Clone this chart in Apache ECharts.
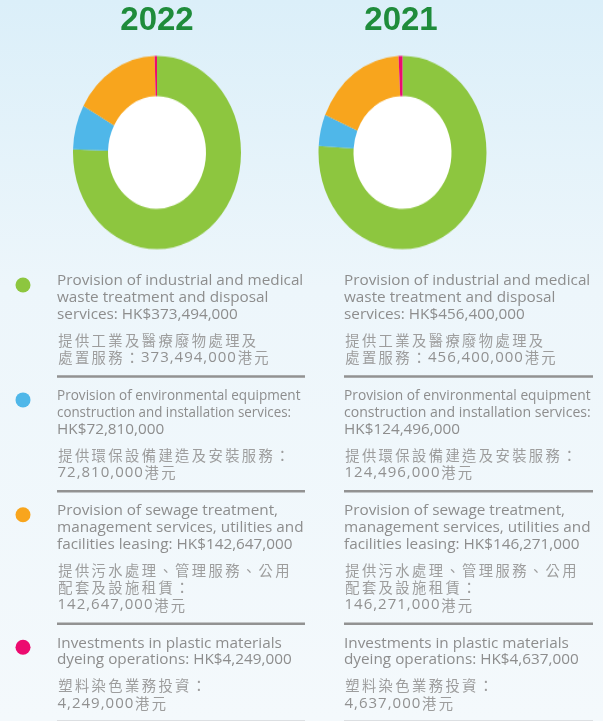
<!DOCTYPE html>
<html>
<head>
<meta charset="utf-8">
<script src="https://cdn.jsdelivr.net/npm/echarts@6/dist/echarts.min.js"></script>
<style>
  html, body { margin: 0; padding: 0; }
  body { width: 603px; height: 721px; position: relative; overflow: hidden; }
  #main { position: absolute; left: 0; top: 0; width: 603px; height: 721px; }
  /* donuts in the original are slightly taller than wide */
  #donuts { position: absolute; left: 0; top: 0; width: 603px; height: 260px;
            transform: scaleY(1.15); transform-origin: 0 152.5px; }
</style>
</head>
<body>
<div id="main"></div>
<div id="donuts"></div>
<script>
// 年份
const years = ['2022', '2021'];
const colors = ['#8dc63f', '#4fb7e9', '#f8a51d', '#ec0b6f'];

// 金额 (HK$)
const amounts2022 = [373494000, 72810000, 142647000, 4249000];
const amounts2021 = [456400000, 124496000, 146271000, 4637000];

// 扇区份额 (按图片读取, %)
const sliceShare2022 = [75.5, 7.5, 16.55, 0.45];
const sliceShare2021 = [76.1, 5.25, 17.9, 0.75];

// 文字
const labelsEn = [
  ['Provision of industrial and medical', 'waste treatment and disposal', 'services: HK${v}'],
  ['Provision of environmental equipment', 'construction and installation services:', 'HK${v}'],
  ['Provision of sewage treatment,', 'management services, utilities and', 'facilities leasing: HK${v}'],
  ['Investments in plastic materials', 'dyeing operations: HK${v}']
];
const labelsZh = [
  ['提供工業及醫療廢物處理及', '處置服務：{v}港元'],
  ['提供環保設備建造及安裝服務：', '{v}港元'],
  ['提供污水處理、管理服務、公用', '配套及設施租賃：', '{v}港元'],
  ['塑料染色業務投資：', '{v}港元']
];

function fmt(n) {
  return n.toLocaleString('en-US');
}

// 中文字间距: 每个字符单独一个 rich token
function spaced(str) {
  return str.split('').map(ch => {
    let isCjk = ch.charCodeAt(0) > 0x2e80;
    return '{' + (isCjk ? 'c' : 'd') + '|' + ch + '}';
  }).join('');
}

let mainChart = echarts.init(document.getElementById('main'));
let donutChart = echarts.init(document.getElementById('donuts'));

let graphics = [];
// 标题
[157, 401].forEach((cx, i) => {
  graphics.push({
    type: 'text',
    x: cx,
    y: 21,
    style: {
      text: years[i],
      fill: '#1f8c3b',
      font: 'bold 33px "Liberation Sans", Arial, sans-serif',
      textAlign: 'center', textVerticalAlign: 'middle',
      align: 'center', verticalAlign: 'middle'
    }
  });
});

// 图例文字
const cols = [
  { x: 57, amounts: amounts2022, right: 305, narrow: [0.887, 0.873] },
  { x: 344, amounts: amounts2021, right: 593, narrow: [0.898, 0.92] }
];
const enFamily = '"Open Sans", "Noto Sans", sans-serif';
const richZh = {
  c: { fontFamily: '"Noto Sans CJK TC", sans-serif', fontSize: 14.3, padding: [0, 1.2], lineHeight: 18, fill: '#9d9d9d' },
  d: { fontFamily: enFamily, fontSize: 15, padding: [0, 0.5], lineHeight: 18, fill: '#919191' }
};
let y = 281;
labelsEn.forEach((en, k) => {
  let first = y;
  graphics.push({
    type: 'circle',
    shape: { cx: 23, cy: first + 4, r: 7.5 },
    style: { fill: colors[k] }
  });
  let ly = y;
  en.forEach((line, j) => {
    cols.forEach(c => {
      // 第二组前两行为窄字
      let sx = (k === 1 && j < 2) ? c.narrow[j] : 1;
      graphics.push({
        type: 'text', x: c.x, y: ly, scaleX: sx,
        style: {
          text: line.replace('{v}', fmt(c.amounts[k])),
          fill: '#8d8d8d', font: '15.3px ' + enFamily,
          textVerticalAlign: 'middle', verticalAlign: 'middle'
        }
      });
    });
    ly += 16.7;
  });
  ly += 26 - 16.7;
  labelsZh[k].forEach(line => {
    cols.forEach(c => {
      graphics.push({
        type: 'text', x: c.x, y: ly,
        style: {
          text: spaced(line.replace('{v}', fmt(c.amounts[k]))),
          rich: richZh,
          textVerticalAlign: 'middle', verticalAlign: 'middle'
        }
      });
    });
    ly += 17.5;
  });
  let sepY = ly - 17.5 + 18.5;
  cols.forEach(c => {
    graphics.push({
      type: 'line',
      shape: { x1: c.x, y1: sepY, x2: c.right, y2: sepY },
      style: { stroke: '#929292', lineWidth: 2.5 }
    });
  });
  y = sepY + 19.5;
});

mainChart.setOption({
  animation: false,
  backgroundColor: {
    type: 'linear', x: 0, y: 0, x2: 0, y2: 1,
    colorStops: [
      { offset: 0, color: '#dbeff9' },
      { offset: 0.4, color: '#edf6fb' },
      { offset: 1, color: '#f4f9fc' }
    ]
  },
  graphic: graphics
});

function pieSeries(cx, shares) {
  return {
    type: 'pie',
    center: [cx, 152.5],
    radius: [49, 84],
    startAngle: 90,
    clockwise: true,
    silent: true,
    label: { show: false },
    labelLine: { show: false },
    itemStyle: { borderWidth: 0 },
    data: shares.map((v, i) => ({ value: v, itemStyle: { color: colors[i] } }))
  };
}

donutChart.setOption({
  backgroundColor: 'transparent',
  animation: false,
  graphic: [
    { type: 'circle', shape: { cx: 157, cy: 152.5, r: 49.5 }, style: { fill: '#fff' } },
    { type: 'circle', shape: { cx: 402.5, cy: 152.5, r: 49.5 }, style: { fill: '#fff' } }
  ],
  series: [pieSeries(157, sliceShare2022), pieSeries(402.5, sliceShare2021)]
});
</script>
</body>
</html>
